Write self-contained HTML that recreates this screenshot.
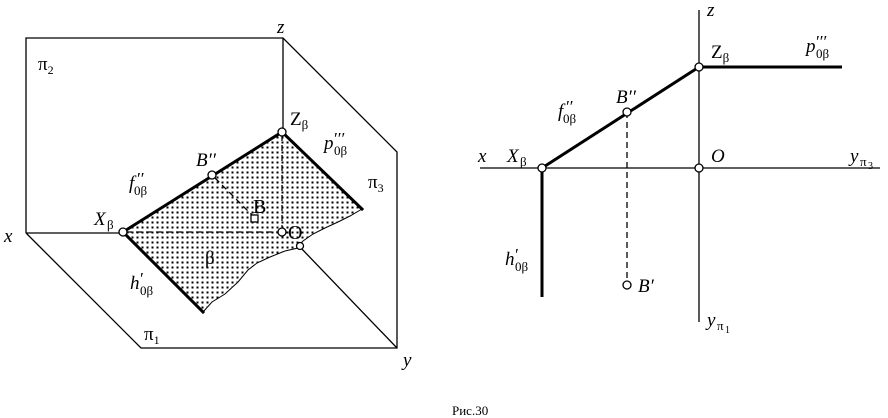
<!DOCTYPE html>
<html><head><meta charset="utf-8"><style>
html,body{margin:0;padding:0;background:#fff;}
svg{display:block;}
text{font-family:"Liberation Serif",serif;fill:#000;}
.i{font-style:italic;}
</style></head><body>
<svg width="888" height="418" viewBox="0 0 888 418" xmlns="http://www.w3.org/2000/svg">
<defs>
<pattern id="dots" x="0" y="0" width="5" height="5" patternUnits="userSpaceOnUse">
<rect x="1.5" y="1.5" width="2" height="2" fill="#000"/>
</pattern>
</defs>
<g stroke="#000" stroke-width="1.3" fill="none">
<polyline points="26,233 26,38 283,38 397,152 397,348 141,348 26,233"/>
<line x1="283" y1="38" x2="283" y2="132"/>
<line x1="26" y1="233" x2="123" y2="233"/>
<line x1="300" y1="247" x2="397" y2="348"/>
</g>
<path d="M123,232 L282,132 L362,209 L350,216 L338,222 L325,228 L313,234 L303,241 L298,248 L285,251 L270,257 L257,263 L248,270 L238,282 L225,294 L212,302 L203,312 Z" fill="url(#dots)" stroke="none"/>
<path d="M362,209 L350,216 L338,222 L325,228 L313,234 L303,241 L298,248 L285,251 L270,257 L257,263 L248,270 L238,282 L225,294 L212,302 L203,312" fill="none" stroke="#000" stroke-width="1"/>
<g stroke="#000" stroke-width="3" fill="none" stroke-linecap="square">
<line x1="123" y1="232" x2="282" y2="132"/>
<line x1="282" y1="132" x2="362" y2="209"/>
<line x1="123" y1="232" x2="203" y2="312"/>
</g>
<g stroke="#000" stroke-width="1.3" fill="none" stroke-dasharray="6,4">
<line x1="126" y1="232" x2="280" y2="232"/>
<line x1="282" y1="135" x2="282" y2="229"/>
<line x1="215" y1="178" x2="252" y2="215"/>
</g>
<g stroke="#000" stroke-width="1.3" fill="#fff">
<circle cx="123" cy="232" r="4"/>
<circle cx="282" cy="132" r="4"/>
<circle cx="212" cy="175" r="4"/>
<circle cx="282" cy="232" r="4"/>
<circle cx="300" cy="246" r="3.5"/>
<rect x="251" y="215" width="7" height="7"/>
</g>
<text x="277" y="33" font-size="19" class="i">z</text>
<text x="38" y="70" font-size="19">π<tspan font-size="12" dy="4">2</tspan></text>
<text x="290" y="125" font-size="19">Z<tspan font-size="13" dy="4">β</tspan></text>
<text x="324" y="149" font-size="19" class="i">p</text>
<text x="333" y="144" font-size="17" class="i">′′′</text>
<text x="334" y="155" font-size="13">0β</text>
<text x="368" y="188" font-size="19">π<tspan font-size="12" dy="4">3</tspan></text>
<text x="196" y="166" font-size="19" class="i">B′′</text>
<text x="129" y="189" font-size="19" class="i">f</text>
<text x="136" y="184" font-size="17" class="i">′′</text>
<text x="134" y="195" font-size="13">0β</text>
<text x="253" y="213" font-size="20">B</text>
<text x="288" y="239" font-size="20">O</text>
<text x="94" y="225" font-size="19" class="i">X</text>
<text x="107" y="229" font-size="13">β</text>
<text x="4" y="242" font-size="19" class="i">x</text>
<text x="205" y="264" font-size="19">β</text>
<text x="130" y="289" font-size="19" class="i">h</text>
<text x="139" y="284" font-size="17" class="i">′</text>
<text x="140" y="295" font-size="13">0β</text>
<text x="144" y="340" font-size="19">π<tspan font-size="12" dy="4">1</tspan></text>
<text x="403" y="366" font-size="19" class="i">y</text>

<g stroke="#000" stroke-width="1.3" fill="none">
<line x1="699" y1="10" x2="699" y2="322"/>
<line x1="480" y1="168" x2="880" y2="168"/>
</g>
<g stroke="#000" stroke-width="3" fill="none">
<line x1="542" y1="168" x2="699" y2="67"/>
<line x1="699" y1="67" x2="842" y2="67"/>
<line x1="542" y1="168" x2="542" y2="297"/>
</g>
<line x1="627" y1="112" x2="627" y2="285" stroke="#000" stroke-width="1.3" stroke-dasharray="6,4"/>
<g stroke="#000" stroke-width="1.3" fill="#fff">
<circle cx="699" cy="67" r="4"/>
<circle cx="542" cy="168" r="4"/>
<circle cx="627" cy="112" r="4"/>
<circle cx="699" cy="168" r="4"/>
<circle cx="627" cy="285" r="4"/>
</g>
<text x="707" y="16" font-size="19" class="i">z</text>
<text x="711" y="58" font-size="19">Z<tspan font-size="13" dy="4">β</tspan></text>
<text x="806" y="52" font-size="19" class="i">p</text>
<text x="815" y="47" font-size="17" class="i">′′′</text>
<text x="816" y="58" font-size="13">0β</text>
<text x="616" y="103" font-size="19" class="i">B′′</text>
<text x="558" y="117" font-size="19" class="i">f</text>
<text x="565" y="112" font-size="17" class="i">′′</text>
<text x="563" y="123" font-size="13">0β</text>
<text x="478" y="162" font-size="19" class="i">x</text>
<text x="507" y="162" font-size="19" class="i">X</text>
<text x="520" y="166" font-size="13">β</text>
<text x="711" y="162" font-size="19" class="i">O</text>
<text x="850" y="162" font-size="19" class="i">y</text>
<text x="860" y="166" font-size="13">π</text>
<text x="868" y="169" font-size="10">3</text>
<text x="505" y="265" font-size="19" class="i">h</text>
<text x="514" y="260" font-size="17" class="i">′</text>
<text x="515" y="271" font-size="13">0β</text>
<text x="638" y="292" font-size="19" class="i">B′</text>
<text x="707" y="326" font-size="19" class="i">y</text>
<text x="717" y="330" font-size="13">π</text>
<text x="725" y="333" font-size="10">1</text>

<text x="452" y="415" font-size="13">Рис.30</text>
</svg>
</body></html>
